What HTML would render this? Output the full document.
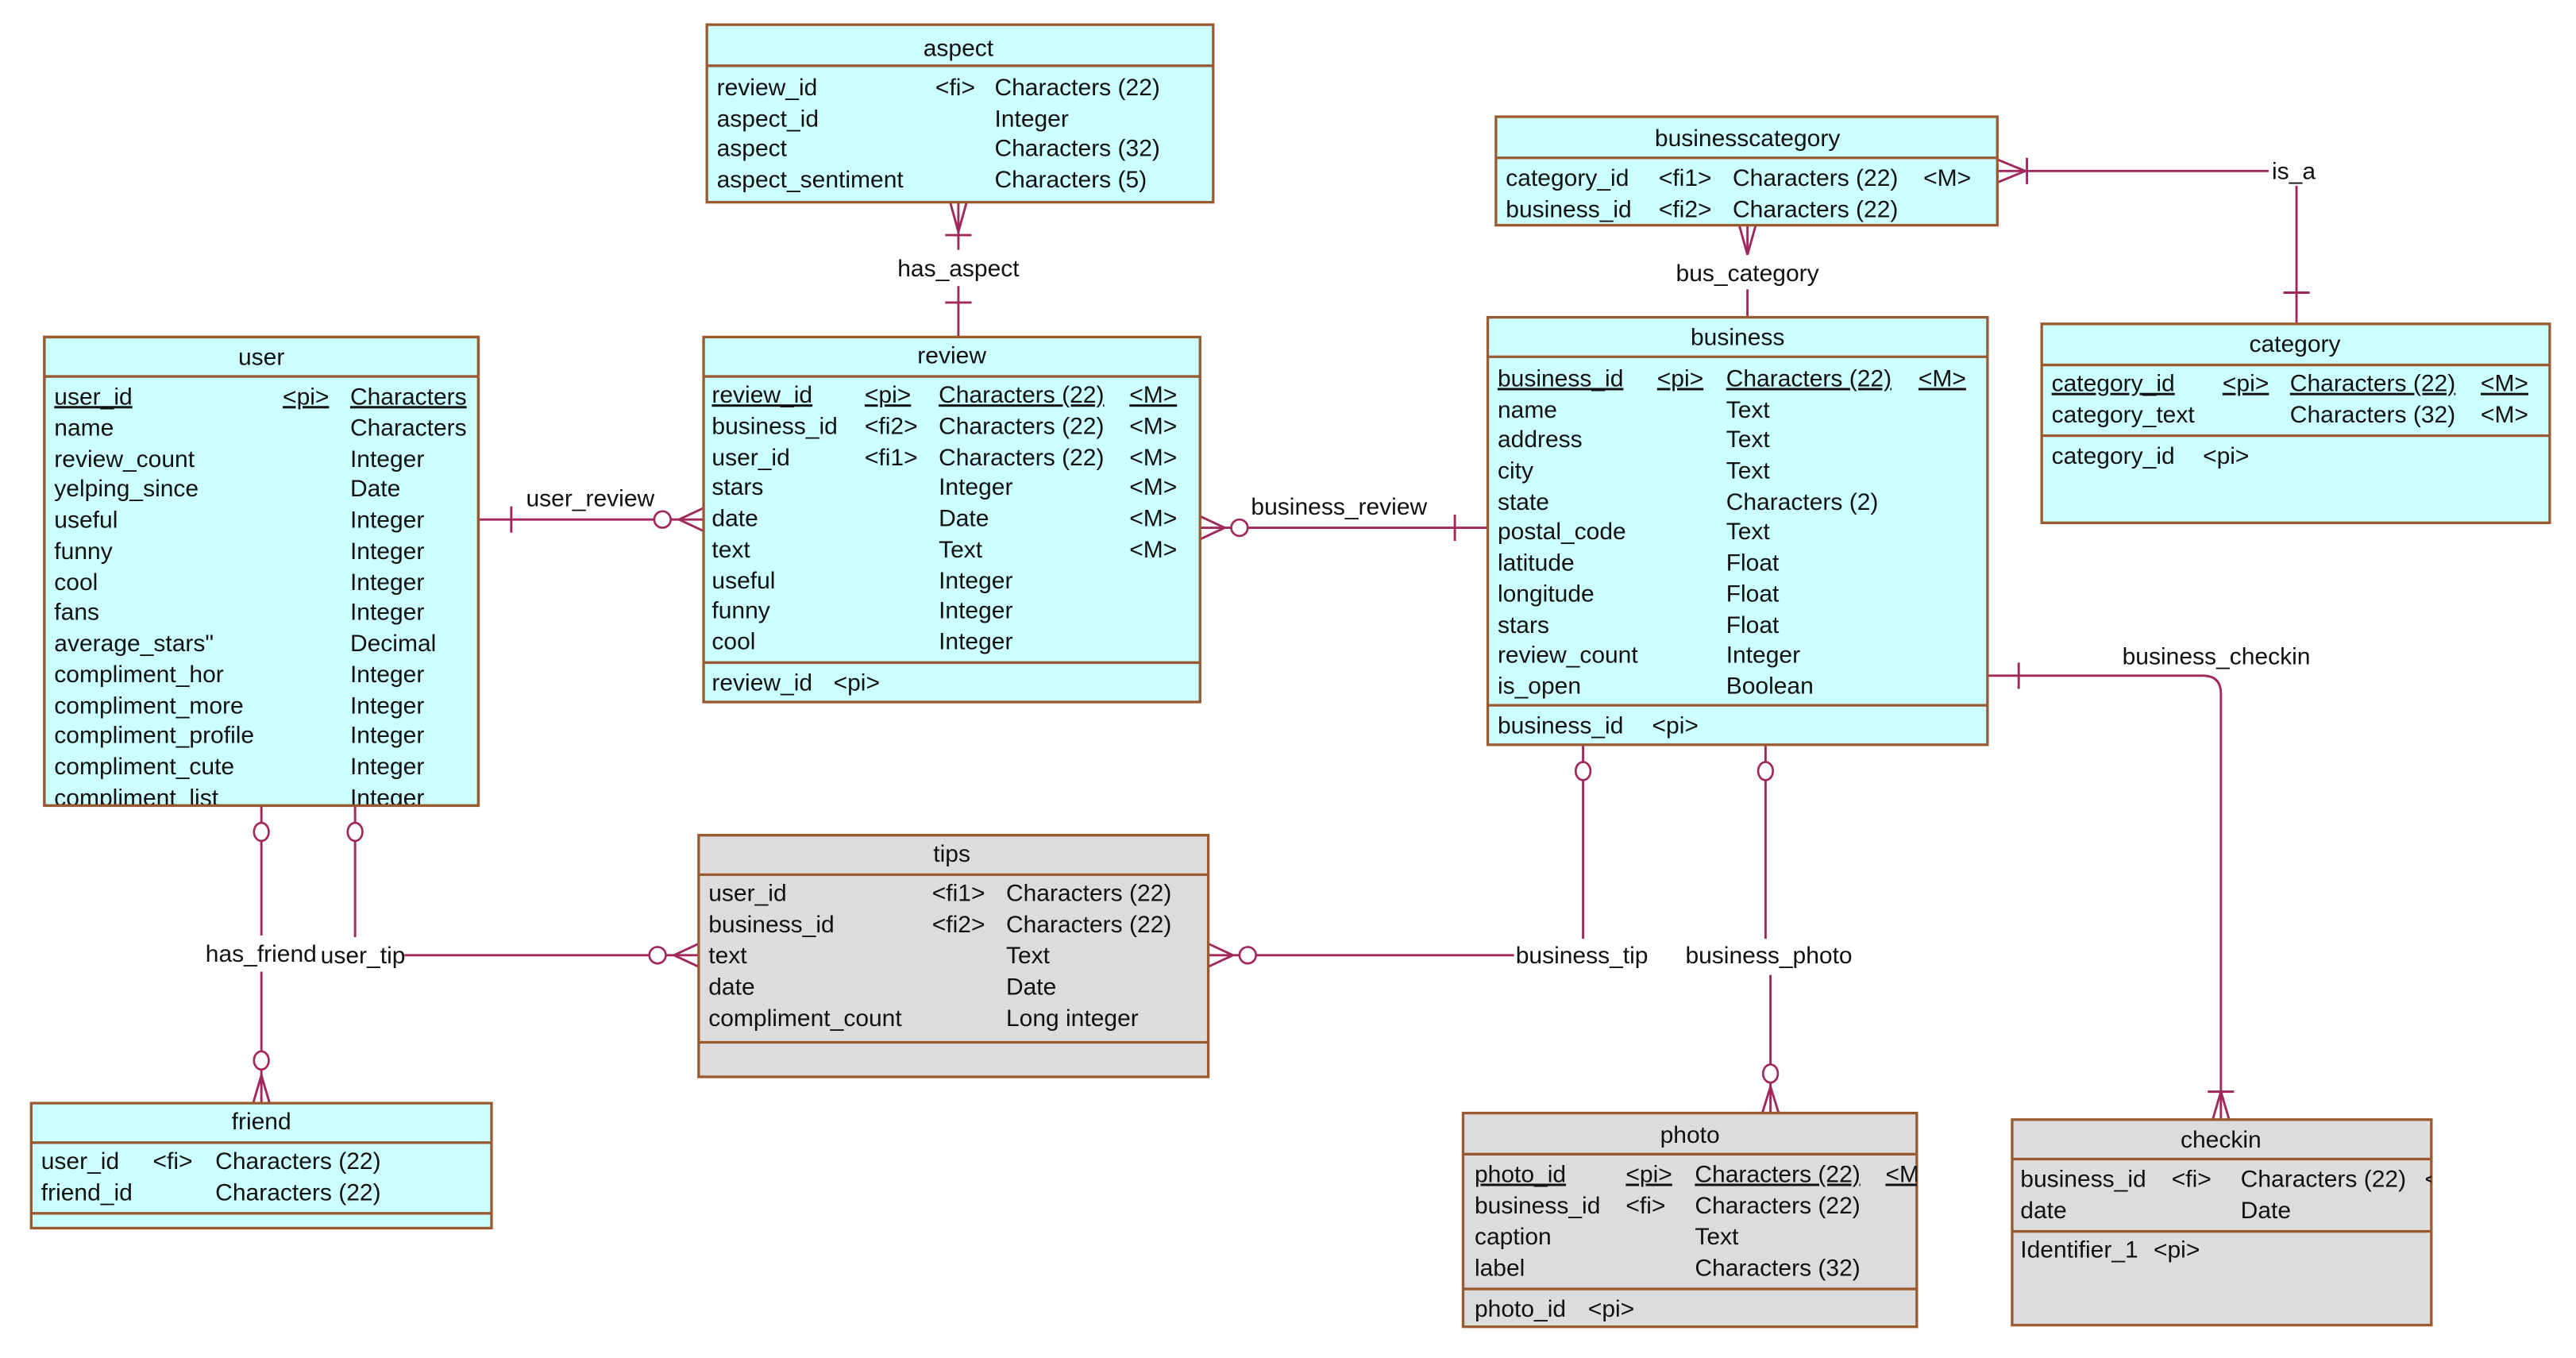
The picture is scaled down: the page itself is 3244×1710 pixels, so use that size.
<!DOCTYPE html>
<html><head><meta charset="utf-8"><style>
html,body{margin:0;padding:0;background:#fff;}
svg{display:block;}
text{font-family:"Liberation Sans",Arial,sans-serif;font-size:14.5px;fill:#111;}
.t{text-anchor:middle;}
.c{fill:#ccffff;stroke:#9a5a30;stroke-width:1.6;}
.g{fill:#dcdcdc;stroke:#9a5a30;stroke-width:1.6;}
.s{stroke:#9a5a30;stroke-width:1.6;}
.l{stroke:#a0285a;stroke-width:1.4;fill:none;}
.o{stroke:#a0285a;stroke-width:1.3;fill:#fff;}
</style></head><body>
<svg width="3244" height="1710" viewBox="0 0 1567 826" preserveAspectRatio="none" xmlns="http://www.w3.org/2000/svg">
<defs>
<clipPath id="cu"><rect x="27" y="205" width="264" height="285"/></clipPath>
<clipPath id="cp"><rect x="890" y="677" width="276" height="130"/></clipPath>
<clipPath id="cc"><rect x="1224" y="681" width="255" height="125"/></clipPath>
</defs>

<!-- has_aspect -->
<line class="l" x1="583" y1="123" x2="583" y2="152"/>
<line class="l" x1="578" y1="123" x2="583" y2="141"/><line class="l" x1="588" y1="123" x2="583" y2="141"/>
<line class="l" x1="575" y1="143" x2="591" y2="143"/>
<line class="l" x1="583" y1="174" x2="583" y2="205"/>
<line class="l" x1="575" y1="184" x2="591" y2="184"/>
<text class="t" x="583" y="168">has_aspect</text>
<!-- user_review -->
<line class="l" x1="291" y1="316" x2="398" y2="316"/>
<line class="l" x1="311" y1="308" x2="311" y2="324"/>
<ellipse class="o" cx="403" cy="316" rx="5" ry="5"/>
<line class="l" x1="408" y1="316" x2="428" y2="316"/>
<line class="l" x1="413" y1="316" x2="428" y2="309"/><line class="l" x1="413" y1="316" x2="428" y2="323"/>
<text x="320" y="308">user_review</text>
<!-- business_review -->
<line class="l" x1="730" y1="321" x2="749" y2="321"/>
<line class="l" x1="730" y1="314" x2="745" y2="321"/><line class="l" x1="730" y1="328" x2="745" y2="321"/>
<ellipse class="o" cx="754" cy="321" rx="5" ry="5"/>
<line class="l" x1="759" y1="321" x2="905" y2="321"/>
<line class="l" x1="885" y1="313" x2="885" y2="329"/>
<text x="761" y="313">business_review</text>
<!-- bus_category -->
<line class="l" x1="1063" y1="137" x2="1063" y2="155"/>
<line class="l" x1="1058" y1="137" x2="1063" y2="155"/><line class="l" x1="1068" y1="137" x2="1063" y2="155"/>
<line class="l" x1="1063" y1="176" x2="1063" y2="193"/>
<text class="t" x="1063" y="171">bus_category</text>
<!-- is_a -->
<line class="l" x1="1215" y1="104" x2="1380" y2="104"/>
<line class="l" x1="1215" y1="97" x2="1232" y2="104"/><line class="l" x1="1215" y1="111" x2="1232" y2="104"/>
<line class="l" x1="1233" y1="96" x2="1233" y2="112"/>
<line class="l" x1="1397" y1="113" x2="1397" y2="197"/>
<line class="l" x1="1389" y1="178" x2="1405" y2="178"/>
<text x="1382" y="109">is_a</text>
<!-- business_checkin -->
<path class="l" d="M1209 411 H1340 Q1351 411 1351 422 V681"/>
<line class="l" x1="1228" y1="403" x2="1228" y2="419"/>
<line class="l" x1="1346" y1="681" x2="1351" y2="664"/><line class="l" x1="1356" y1="681" x2="1351" y2="664"/>
<line class="l" x1="1343" y1="664" x2="1359" y2="664"/>
<text x="1291" y="404">business_checkin</text>
<!-- business_tip -->
<line class="l" x1="963" y1="453" x2="963" y2="464"/>
<ellipse class="o" cx="963" cy="469" rx="4.5" ry="5.5"/>
<line class="l" x1="963" y1="474" x2="963" y2="571"/>
<line class="l" x1="735" y1="581" x2="754" y2="581"/>
<line class="l" x1="735" y1="574" x2="750" y2="581"/><line class="l" x1="735" y1="588" x2="750" y2="581"/>
<ellipse class="o" cx="759" cy="581" rx="5" ry="5"/>
<line class="l" x1="764" y1="581" x2="921" y2="581"/>
<text x="922" y="586">business_tip</text>
<!-- business_photo -->
<line class="l" x1="1074" y1="453" x2="1074" y2="464"/>
<ellipse class="o" cx="1074" cy="469" rx="4.5" ry="5.5"/>
<line class="l" x1="1074" y1="474" x2="1074" y2="571"/>
<line class="l" x1="1077" y1="593" x2="1077" y2="648"/>
<ellipse class="o" cx="1077" cy="653" rx="4.5" ry="5.5"/>
<line class="l" x1="1077" y1="658" x2="1077" y2="677"/>
<line class="l" x1="1072" y1="677" x2="1077" y2="661"/><line class="l" x1="1082" y1="677" x2="1077" y2="661"/>
<text class="t" x="1076" y="586">business_photo</text>
<!-- user_tip -->
<line class="l" x1="216" y1="490" x2="216" y2="501"/>
<ellipse class="o" cx="216" cy="506" rx="4.5" ry="5.5"/>
<line class="l" x1="216" y1="511" x2="216" y2="571"/>
<line class="l" x1="246" y1="581" x2="395" y2="581"/>
<ellipse class="o" cx="400" cy="581" rx="5" ry="5"/>
<line class="l" x1="405" y1="581" x2="425" y2="581"/>
<line class="l" x1="410" y1="581" x2="425" y2="574"/><line class="l" x1="410" y1="581" x2="425" y2="588"/>
<!-- has_friend -->
<line class="l" x1="159" y1="490" x2="159" y2="501"/>
<ellipse class="o" cx="159" cy="506" rx="4.5" ry="5.5"/>
<line class="l" x1="159" y1="511" x2="159" y2="570"/>
<line class="l" x1="159" y1="591" x2="159" y2="640"/>
<ellipse class="o" cx="159" cy="645" rx="4.5" ry="5.5"/>
<line class="l" x1="159" y1="650" x2="159" y2="671"/>
<line class="l" x1="154" y1="671" x2="159" y2="654"/><line class="l" x1="164" y1="671" x2="159" y2="654"/>
<rect x="194" y="570" width="50" height="20" fill="#fff"/>
<text x="195" y="586">user_tip</text>
<rect x="124" y="569" width="70" height="20" fill="#fff"/>
<text x="125" y="585">has_friend</text>

<!-- aspect -->
<rect class="c" x="430" y="15" width="308" height="108"/>
<line class="s" x1="430" y1="40" x2="738" y2="40"/>
<text class="t" x="583" y="34">aspect</text>
<text x="436" y="58">review_id</text><text x="569" y="58">&lt;fi&gt;</text><text x="605" y="58">Characters (22)</text>
<text x="436" y="77">aspect_id</text><text x="605" y="77">Integer</text>
<text x="436" y="95">aspect</text><text x="605" y="95">Characters (32)</text>
<text x="436" y="114">aspect_sentiment</text><text x="605" y="114">Characters (5)</text>

<!-- user -->
<rect class="c" x="27" y="205" width="264" height="285"/>
<line class="s" x1="27" y1="229" x2="291" y2="229"/>
<text class="t" x="159" y="222">user</text>
<g clip-path="url(#cu)">
<text x="33" y="246" text-decoration="underline">user_id</text><text x="172" y="246" text-decoration="underline">&lt;pi&gt;</text><text x="213" y="246" text-decoration="underline">Characters</text>
<text x="33" y="265">name</text><text x="213" y="265">Characters</text>
<text x="33" y="284">review_count</text><text x="213" y="284">Integer</text>
<text x="33" y="302">yelping_since</text><text x="213" y="302">Date</text>
<text x="33" y="321">useful</text><text x="213" y="321">Integer</text>
<text x="33" y="340">funny</text><text x="213" y="340">Integer</text>
<text x="33" y="359">cool</text><text x="213" y="359">Integer</text>
<text x="33" y="377">fans</text><text x="213" y="377">Integer</text>
<text x="33" y="396">average_stars"</text><text x="213" y="396">Decimal</text>
<text x="33" y="415">compliment_hor</text><text x="213" y="415">Integer</text>
<text x="33" y="434">compliment_more</text><text x="213" y="434">Integer</text>
<text x="33" y="452">compliment_profile</text><text x="213" y="452">Integer</text>
<text x="33" y="471">compliment_cute</text><text x="213" y="471">Integer</text>
<text x="33" y="490">compliment_list</text><text x="213" y="490">Integer</text>
</g>
<rect x="27" y="205" width="264" height="285" fill="none" class="s"/>

<!-- review -->
<rect class="c" x="428" y="205" width="302" height="222"/>
<line class="s" x1="428" y1="229" x2="730" y2="229"/>
<line class="s" x1="428" y1="403" x2="730" y2="403"/>
<text class="t" x="579" y="221">review</text>
<text x="433" y="245" text-decoration="underline">review_id</text><text x="526" y="245" text-decoration="underline">&lt;pi&gt;</text><text x="571" y="245" text-decoration="underline">Characters (22)</text><text x="687" y="245" text-decoration="underline">&lt;M&gt;</text>
<text x="433" y="264">business_id</text><text x="526" y="264">&lt;fi2&gt;</text><text x="571" y="264">Characters (22)</text><text x="687" y="264">&lt;M&gt;</text>
<text x="433" y="283">user_id</text><text x="526" y="283">&lt;fi1&gt;</text><text x="571" y="283">Characters (22)</text><text x="687" y="283">&lt;M&gt;</text>
<text x="433" y="301">stars</text><text x="571" y="301">Integer</text><text x="687" y="301">&lt;M&gt;</text>
<text x="433" y="320">date</text><text x="571" y="320">Date</text><text x="687" y="320">&lt;M&gt;</text>
<text x="433" y="339">text</text><text x="571" y="339">Text</text><text x="687" y="339">&lt;M&gt;</text>
<text x="433" y="358">useful</text><text x="571" y="358">Integer</text>
<text x="433" y="376">funny</text><text x="571" y="376">Integer</text>
<text x="433" y="395">cool</text><text x="571" y="395">Integer</text>
<text x="433" y="420">review_id</text><text x="507" y="420">&lt;pi&gt;</text>

<!-- businesscategory -->
<rect class="c" x="910" y="71" width="305" height="66"/>
<line class="s" x1="910" y1="96" x2="1215" y2="96"/>
<text class="t" x="1063" y="89">businesscategory</text>
<text x="916" y="113">category_id</text><text x="1009" y="113">&lt;fi1&gt;</text><text x="1054" y="113">Characters (22)</text><text x="1170" y="113">&lt;M&gt;</text>
<text x="916" y="132">business_id</text><text x="1009" y="132">&lt;fi2&gt;</text><text x="1054" y="132">Characters (22)</text>

<!-- business -->
<rect class="c" x="905" y="193" width="304" height="260"/>
<line class="s" x1="905" y1="217" x2="1209" y2="217"/>
<line class="s" x1="905" y1="429" x2="1209" y2="429"/>
<text class="t" x="1057" y="210">business</text>
<text x="911" y="235" text-decoration="underline">business_id</text><text x="1008" y="235" text-decoration="underline">&lt;pi&gt;</text><text x="1050" y="235" text-decoration="underline">Characters (22)</text><text x="1167" y="235" text-decoration="underline">&lt;M&gt;</text>
<text x="911" y="254">name</text><text x="1050" y="254">Text</text>
<text x="911" y="272">address</text><text x="1050" y="272">Text</text>
<text x="911" y="291">city</text><text x="1050" y="291">Text</text>
<text x="911" y="310">state</text><text x="1050" y="310">Characters (2)</text>
<text x="911" y="328">postal_code</text><text x="1050" y="328">Text</text>
<text x="911" y="347">latitude</text><text x="1050" y="347">Float</text>
<text x="911" y="366">longitude</text><text x="1050" y="366">Float</text>
<text x="911" y="385">stars</text><text x="1050" y="385">Float</text>
<text x="911" y="403">review_count</text><text x="1050" y="403">Integer</text>
<text x="911" y="422">is_open</text><text x="1050" y="422">Boolean</text>
<text x="911" y="446">business_id</text><text x="1005" y="446">&lt;pi&gt;</text>

<!-- category -->
<rect class="c" x="1242" y="197" width="309" height="121"/>
<line class="s" x1="1242" y1="222" x2="1551" y2="222"/>
<line class="s" x1="1242" y1="265" x2="1551" y2="265"/>
<text class="t" x="1396" y="214">category</text>
<text x="1248" y="238" text-decoration="underline">category_id</text><text x="1352" y="238" text-decoration="underline">&lt;pi&gt;</text><text x="1393" y="238" text-decoration="underline">Characters (22)</text><text x="1509" y="238" text-decoration="underline">&lt;M&gt;</text>
<text x="1248" y="257">category_text</text><text x="1393" y="257">Characters (32)</text><text x="1509" y="257">&lt;M&gt;</text>
<text x="1248" y="282">category_id</text><text x="1340" y="282">&lt;pi&gt;</text>

<!-- tips -->
<rect class="g" x="425" y="508" width="310" height="147"/>
<line class="s" x1="425" y1="532" x2="735" y2="532"/>
<line class="s" x1="425" y1="634" x2="735" y2="634"/>
<text class="t" x="579" y="524">tips</text>
<text x="431" y="548">user_id</text><text x="567" y="548">&lt;fi1&gt;</text><text x="612" y="548">Characters (22)</text>
<text x="431" y="567">business_id</text><text x="567" y="567">&lt;fi2&gt;</text><text x="612" y="567">Characters (22)</text>
<text x="431" y="586">text</text><text x="612" y="586">Text</text>
<text x="431" y="605">date</text><text x="612" y="605">Date</text>
<text x="431" y="624">compliment_count</text><text x="612" y="624">Long integer</text>

<!-- friend -->
<rect class="c" x="19" y="671" width="280" height="76"/>
<line class="s" x1="19" y1="695" x2="299" y2="695"/>
<line class="s" x1="19" y1="738" x2="299" y2="738"/>
<text class="t" x="159" y="687">friend</text>
<text x="25" y="711">user_id</text><text x="93" y="711">&lt;fi&gt;</text><text x="131" y="711">Characters (22)</text>
<text x="25" y="730">friend_id</text><text x="131" y="730">Characters (22)</text>

<!-- photo -->
<rect class="g" x="890" y="677" width="276" height="130"/>
<line class="s" x1="890" y1="702" x2="1166" y2="702"/>
<line class="s" x1="890" y1="784" x2="1166" y2="784"/>
<text class="t" x="1028" y="695">photo</text>
<g clip-path="url(#cp)">
<text x="897" y="719" text-decoration="underline">photo_id</text><text x="989" y="719" text-decoration="underline">&lt;pi&gt;</text><text x="1031" y="719" text-decoration="underline">Characters (22)</text><text x="1147" y="719" text-decoration="underline">&lt;M&gt;</text>
</g>
<text x="897" y="738">business_id</text><text x="989" y="738">&lt;fi&gt;</text><text x="1031" y="738">Characters (22)</text>
<text x="897" y="757">caption</text><text x="1031" y="757">Text</text>
<text x="897" y="776">label</text><text x="1031" y="776">Characters (32)</text>
<text x="897" y="801">photo_id</text><text x="966" y="801">&lt;pi&gt;</text>

<!-- checkin -->
<rect class="g" x="1224" y="681" width="255" height="125"/>
<line class="s" x1="1224" y1="705" x2="1479" y2="705"/>
<line class="s" x1="1224" y1="749" x2="1479" y2="749"/>
<text class="t" x="1351" y="698">checkin</text>
<g clip-path="url(#cc)">
<text x="1229" y="722">business_id</text><text x="1321" y="722">&lt;fi&gt;</text><text x="1363" y="722">Characters (22)</text><text x="1475" y="722">&lt;M&gt;</text>
</g>
<text x="1229" y="741">date</text><text x="1363" y="741">Date</text>
<text x="1229" y="765">Identifier_1</text><text x="1310" y="765">&lt;pi&gt;</text>
</svg>
</body></html>
